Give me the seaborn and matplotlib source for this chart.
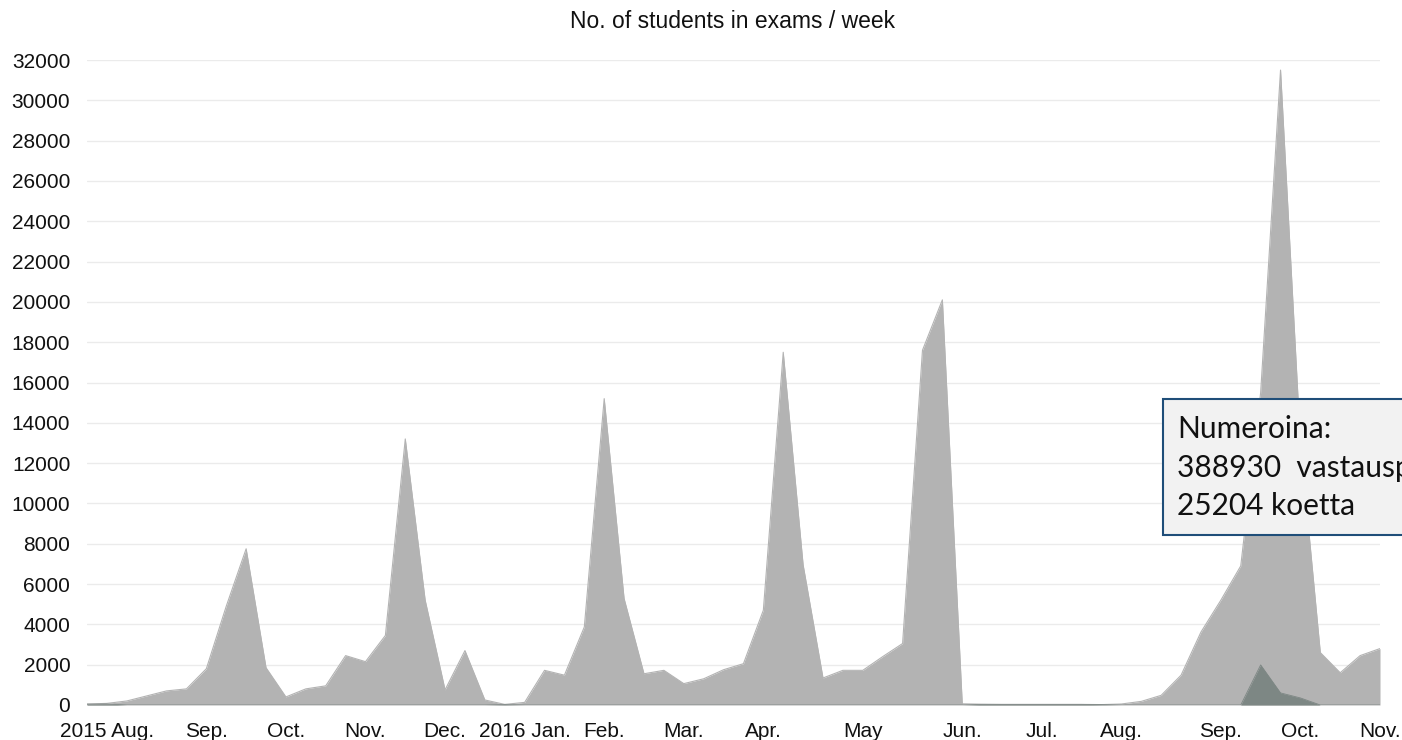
import numpy as np
import pandas as pd
import seaborn as sns
import matplotlib.pyplot as plt
from matplotlib.patches import Rectangle

# weekly data, Aug 2015 -> Nov 2016 (66 weeks)
students = [50, 80, 200, 450, 700, 800, 1800, 4900, 7750, 1850,
            400, 800, 950, 2450, 2150, 3450, 13200, 5200, 750, 2700,
            250, 30, 130, 1720, 1480, 3870, 15200, 5280, 1550, 1720,
            1060, 1300, 1750, 2050, 4700, 17500, 6950, 1340, 1720, 1720,
            2400, 3050, 17600, 20100, 60, 40, 30, 30, 30, 30,
            30, 20, 50, 180, 480, 1480, 3620, 5200, 6900, 15500,
            31500, 13000, 2600, 1600, 2450, 2800]
digital = [40, 50, 0, 0, 0, 0, 0, 0, 0, 0,
           0, 0, 0, 0, 0, 0, 0, 0, 0, 0,
           0, 20, 0, 0, 0, 0, 0, 0, 0, 0,
           0, 0, 0, 0, 0, 0, 0, 0, 0, 0,
           0, 0, 0, 0, 0, 30, 30, 30, 30, 30,
           30, 20, 0, 0, 0, 0, 0, 0, 0, 1990,
           600, 350, 0, 0, 0, 0]

tick_weeks = [1, 6, 10, 14, 18, 22, 26, 30, 34, 39, 44, 48, 52, 57, 61, 65]
tick_labels = ['2015 Aug.', 'Sep.', 'Oct.', 'Nov.', 'Dec.', '2016 Jan.', 'Feb.',
               'Mar.', 'Apr.', 'May', 'Jun.', 'Jul.', 'Aug.', 'Sep.', 'Oct.', 'Nov.']
y_ticks = list(range(0, 32001, 2000))

box_lines = ['Numeroina:', '388930  vastauspaperia', '25204 koetta']

df = pd.DataFrame({'week': np.arange(len(students)), 'students': students, 'digital': digital})

sns.set_theme(style='white')
plt.rcParams['font.family'] = ['Liberation Sans', 'DejaVu Sans']

fig = plt.figure(figsize=(14.02, 7.40), dpi=100)
ax = fig.add_axes([87 / 1402, 1 - 705 / 740, (1380 - 87) / 1402, (705 - 60) / 740])

grey = '#b3b3b3'
dark = '#7d8784'

for yv in y_ticks:
    ax.axhline(yv, color='#ebebeb', lw=1, zorder=0)

ax.fill_between(df['week'], 0, df['students'], color=grey, lw=0, zorder=2)
sns.lineplot(data=df, x='week', y='students', color=grey, lw=0.8, ax=ax, zorder=3)
ax.fill_between(df['week'], 0, df['digital'], color=dark, lw=0, zorder=4)
sns.lineplot(data=df, x='week', y='digital', color=dark, lw=0.6, ax=ax, zorder=5)

ax.set_xlim(0, len(students) - 1)
ax.set_ylim(0, 32000)
ax.set_yticks(y_ticks)
ax.set_yticklabels([str(v) for v in y_ticks])
ax.set_xticks(tick_weeks)
ax.set_xticklabels(tick_labels)
ax.tick_params(axis='y', length=0, pad=12, labelsize=15, labelcolor='#111111')
ax.tick_params(axis='x', length=0, pad=12, labelsize=15, labelcolor='#111111')
ax.set_xlabel('')
ax.set_ylabel('')
for s in ax.spines.values():
    s.set_visible(False)

fig.text(733 / 1402, 1 - 28.5 / 740, 'No. of students in exams / week',
         ha='center', va='baseline', fontsize=16.5, color='#111111')

# annotation box, cut off by the right edge as in the source slide
fig.add_artist(Rectangle((1163 / 1402, 1 - 535 / 740), 300 / 1402, 136 / 740,
                         transform=fig.transFigure, facecolor='#f2f2f2',
                         edgecolor='#1f4e79', lw=1.5, zorder=10))
for i, line in enumerate(box_lines):
    fig.text(1177 / 1402, 1 - (438 + 38.5 * i) / 740, line, ha='left', va='baseline',
             fontsize=21.5, family=['Lato', 'DejaVu Sans'], color='#111111', zorder=11)

fig.savefig('out.png', dpi=100)
